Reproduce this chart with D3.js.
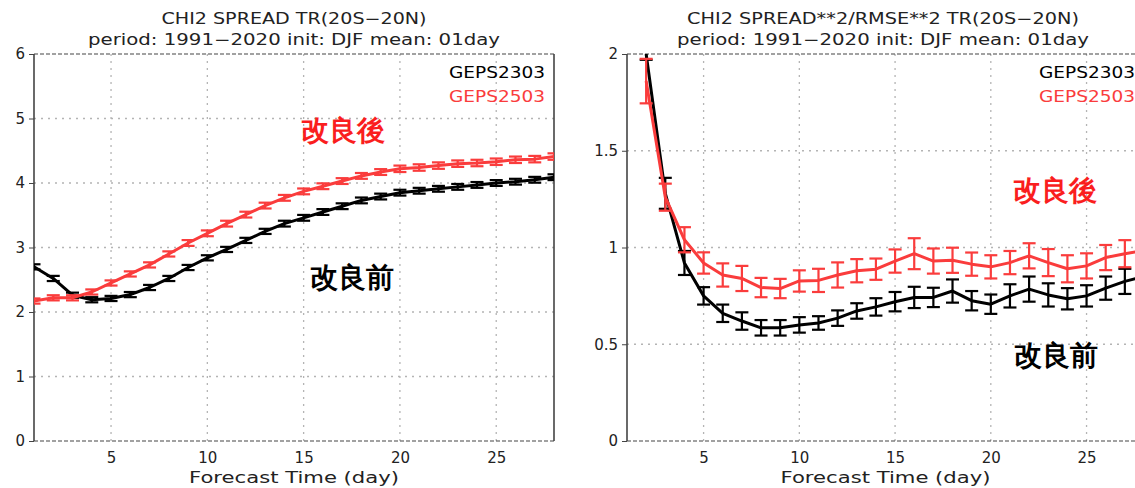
<!DOCTYPE html>
<html><head><meta charset="utf-8">
<script src="https://cdn.jsdelivr.net/npm/d3@7"></script>
<style>
html,body{margin:0;padding:0;background:#fff;}
svg text{font-family:"DejaVu Sans",sans-serif;}
</style></head>
<body><svg id="c" width="1135" height="488"></svg>
<script>
// ---- data ----
const daysLeft = [1,2,3,4,5,6,7,8,9,10,11,12,13,14,15,16,17,18,19,20,21,22,23,24,25,26,27,28];
const leftGEPS2303 = [2.70,2.52,2.26,2.19,2.21,2.27,2.38,2.52,2.69,2.84,2.97,3.11,3.25,3.37,3.46,3.55,3.64,3.73,3.79,3.85,3.88,3.91,3.94,3.97,4.00,4.02,4.05,4.09];
const leftGEPS2303Err = [0.04,0.04,0.04,0.04,0.04,0.04,0.04,0.04,0.04,0.04,0.04,0.04,0.04,0.045,0.045,0.045,0.045,0.045,0.045,0.045,0.045,0.045,0.045,0.045,0.045,0.045,0.045,0.045];
const leftGEPS2503 = [2.17,2.22,2.22,2.31,2.45,2.59,2.73,2.90,3.07,3.22,3.37,3.51,3.65,3.77,3.87,3.95,4.03,4.11,4.17,4.22,4.24,4.27,4.30,4.31,4.33,4.36,4.37,4.41];
const leftGEPS2503Err = [0.04,0.04,0.04,0.04,0.04,0.04,0.04,0.04,0.045,0.045,0.045,0.045,0.045,0.045,0.045,0.045,0.045,0.045,0.045,0.05,0.05,0.05,0.05,0.05,0.05,0.05,0.05,0.05];

const daysRight = [2,3,4,5,6,7,8,9,10,11,12,13,14,15,16,17,18,19,20,21,22,23,24,25,26,27,28];
const rightGEPS2303 = [2.00,1.28,0.92,0.75,0.66,0.62,0.585,0.585,0.60,0.61,0.635,0.672,0.693,0.72,0.742,0.742,0.775,0.725,0.707,0.75,0.785,0.755,0.735,0.75,0.79,0.825,0.85];
const rightGEPS2303Err = [0.03,0.08,0.062,0.045,0.045,0.045,0.04,0.04,0.04,0.035,0.04,0.04,0.045,0.05,0.055,0.05,0.06,0.05,0.05,0.06,0.065,0.06,0.055,0.055,0.06,0.065,0.065];
const rightGEPS2503 = [1.86,1.26,1.04,0.92,0.858,0.84,0.793,0.788,0.827,0.83,0.858,0.88,0.888,0.93,0.968,0.93,0.934,0.914,0.90,0.922,0.957,0.922,0.89,0.905,0.948,0.968,0.985];
const rightGEPS2503Err = [0.115,0.07,0.065,0.055,0.06,0.065,0.05,0.05,0.055,0.06,0.065,0.06,0.055,0.06,0.08,0.065,0.065,0.06,0.06,0.06,0.065,0.07,0.07,0.065,0.065,0.07,0.07];

const xTicks = [5,10,15,20,25];
const leftYTicks = [0,1,2,3,4,5,6];
const rightYTicks = [0,0.5,1,1.5,2];
const seriesNames = ["GEPS2303","GEPS2503"];
const colors = {GEPS2303:"#000000", GEPS2503:"#fa3c3c"};

// ---- drawing ----
const svg = d3.select("#c");

function panel(cfg){
  const g = svg.append("g");
  const x = d3.scaleLinear().domain([1,28]).range([cfg.x0, cfg.x1]);
  const y = d3.scaleLinear().domain(cfg.yDomain).range([441, 54]);
  const clipId = "clip"+cfg.id;
  svg.append("clipPath").attr("id",clipId).append("rect")
     .attr("x",cfg.x0).attr("y",54).attr("width",cfg.x1-cfg.x0).attr("height",441-54);

  // grid
  g.selectAll(".gx").data(xTicks).join("line")
    .attr("x1",d=>x(d)).attr("x2",d=>x(d)).attr("y1",54).attr("y2",441)
    .attr("stroke","#b4b4b4").attr("stroke-width",1.3).attr("stroke-dasharray","2,5");
  g.selectAll(".gy").data(cfg.yTicks.filter(t=>t!==cfg.yDomain[0] && t!==cfg.yDomain[1])).join("line")
    .attr("x1",cfg.x0).attr("x2",cfg.x1).attr("y1",d=>y(d)).attr("y2",d=>y(d))
    .attr("stroke","#b4b4b4").attr("stroke-width",1.3).attr("stroke-dasharray","2,5");

  // frame
  g.append("line").attr("x1",cfg.x0).attr("x2",cfg.x1).attr("y1",y(cfg.yDomain[1])).attr("y2",y(cfg.yDomain[1]))
    .attr("stroke","#444").attr("stroke-width",1.2).attr("stroke-dasharray","4,2");
  g.append("line").attr("x1",cfg.x0).attr("x2",cfg.x1).attr("y1",y(cfg.yDomain[0])).attr("y2",y(cfg.yDomain[0]))
    .attr("stroke","#444").attr("stroke-width",1.2).attr("stroke-dasharray","4,2");
  g.append("line").attr("x1",cfg.x0).attr("x2",cfg.x0).attr("y1",54).attr("y2",441)
    .attr("stroke","#444").attr("stroke-width",1.6);
  g.append("line").attr("x1",cfg.x1).attr("x2",cfg.x1).attr("y1",54).attr("y2",441)
    .attr("stroke","#444").attr("stroke-width",1.6);

  // axes (tick labels)
  const yAxis = d3.axisLeft(y).tickValues(cfg.yTicks).tickSize(5).tickPadding(4)
    .tickFormat(d=>String(d));
  const ya = g.append("g").attr("transform",`translate(${cfg.x0},0)`).call(yAxis);
  ya.select(".domain").remove();
  ya.selectAll("line").attr("stroke","#444");
  ya.selectAll("text").attr("font-size",15).attr("fill","#222").attr("font-family","DejaVu Sans");
  const xAxis = d3.axisBottom(x).tickValues(xTicks).tickSize(0).tickPadding(11).tickFormat(d=>String(d));
  const xa = g.append("g").attr("transform",`translate(0,441)`).call(xAxis);
  xa.select(".domain").remove();
  xa.selectAll("text").attr("font-size",15).attr("fill","#222").attr("font-family","DejaVu Sans");

  g.append("text").attr("x",x(14.5)).attr("y",483).attr("text-anchor","middle")
    .attr("font-size",15).attr("fill","#222").attr("textLength",210).attr("lengthAdjust","spacingAndGlyphs")
    .text("Forecast Time (day)");

  // titles
  g.append("text").attr("x",cfg.titleX).attr("y",24).attr("text-anchor","middle")
    .attr("font-size",15).attr("fill","#222").attr("textLength",cfg.titleLen).attr("lengthAdjust","spacingAndGlyphs")
    .text(cfg.title);
  g.append("text").attr("x",cfg.titleX).attr("y",45).attr("text-anchor","middle")
    .attr("font-size",15).attr("fill","#222").attr("textLength",cfg.subLen).attr("lengthAdjust","spacingAndGlyphs")
    .text("period: 1991\u22122020 init: DJF mean: 01day");

  // series
  const plot = g.append("g").attr("clip-path",`url(#${clipId})`);
  cfg.series.forEach(s=>{
    const pts = s.days.map((d,i)=>({d, v:s.vals[i], e:s.errs[i]}));
    const c = colors[s.name];
    plot.append("path").datum(pts)
      .attr("d", d3.line().x(p=>x(p.d)).y(p=>y(p.v)))
      .attr("fill","none").attr("stroke",c).attr("stroke-width",3).attr("stroke-linejoin","round");
    const eb = plot.append("g").attr("stroke",c).attr("stroke-width",2.2);
    eb.selectAll(".v").data(pts).join("line")
      .attr("x1",p=>x(p.d)).attr("x2",p=>x(p.d)).attr("y1",p=>y(p.v-p.e)).attr("y2",p=>y(p.v+p.e));
    eb.selectAll(".t").data(pts).join("line")
      .attr("x1",p=>x(p.d)-6.5).attr("x2",p=>x(p.d)+6.5).attr("y1",p=>y(p.v+p.e)).attr("y2",p=>y(p.v+p.e));
    eb.selectAll(".b").data(pts).join("line")
      .attr("x1",p=>x(p.d)-6.5).attr("x2",p=>x(p.d)+6.5).attr("y1",p=>y(p.v-p.e)).attr("y2",p=>y(p.v-p.e));
  });

  // legend
  seriesNames.forEach((n,i)=>{
    g.append("text").attr("x",cfg.x1-9).attr("y",78+i*24).attr("text-anchor","end")
      .attr("font-size",15).attr("fill",colors[n]).attr("textLength",96).attr("lengthAdjust","spacingAndGlyphs")
      .text(n);
  });

  // annotations
  cfg.notes.forEach(nt=>{
    g.append("text").attr("x",nt.x).attr("y",nt.y).attr("text-anchor","middle")
      .attr("font-family","'Noto Sans CJK JP',sans-serif").attr("font-weight","bold")
      .attr("font-size",28).attr("fill",nt.c).text(nt.t);
  });
}

panel({id:"L", x0:34, x1:554, yDomain:[0,6], yTicks:leftYTicks,
  title:"CHI2 SPREAD TR(20S\u221220N)", titleX:294, titleLen:265, subLen:412,
  series:[
    {name:"GEPS2303", days:daysLeft, vals:leftGEPS2303, errs:leftGEPS2303Err},
    {name:"GEPS2503", days:daysLeft, vals:leftGEPS2503, errs:leftGEPS2503Err}],
  notes:[{t:"改良後",x:343,y:140,c:"#fa1e1e"},{t:"改良前",x:352,y:287,c:"#000"}]
});
panel({id:"R", x0:627, x1:1144, yDomain:[0,2], yTicks:rightYTicks,
  title:"CHI2 SPREAD**2/RMSE**2 TR(20S\u221220N)", titleX:883, titleLen:392, subLen:412,
  series:[
    {name:"GEPS2303", days:daysRight, vals:rightGEPS2303, errs:rightGEPS2303Err},
    {name:"GEPS2503", days:daysRight, vals:rightGEPS2503, errs:rightGEPS2503Err}],
  notes:[{t:"改良後",x:1055,y:200,c:"#fa1e1e"},{t:"改良前",x:1056,y:365,c:"#000"}]
});
</script></body></html>
